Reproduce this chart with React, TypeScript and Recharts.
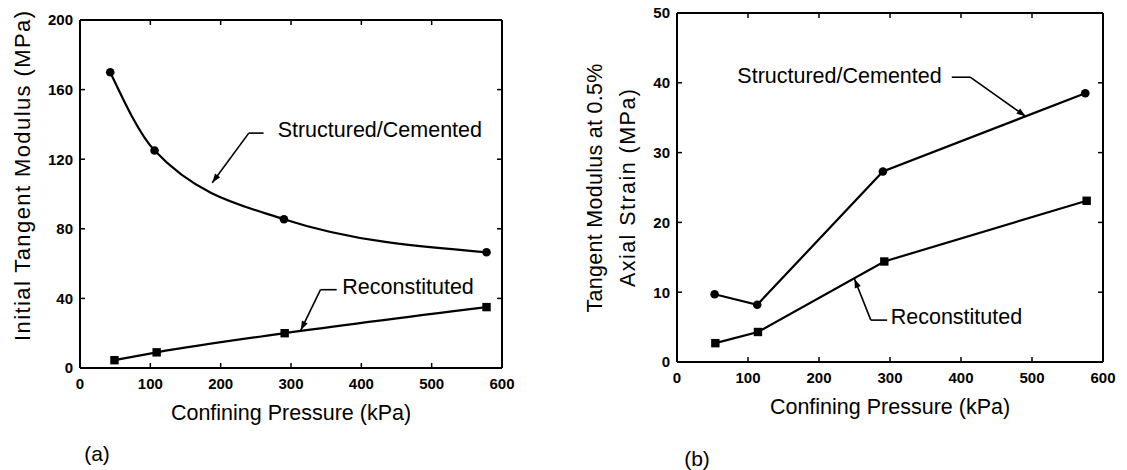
import React from 'react';
import { LineChart, Line, XAxis, YAxis, ReferenceLine, ReferenceDot } from 'recharts';

// ---- Data ----
const pressureTicks = [0, 100, 200, 300, 400, 500, 600];
const leftModulusTicks = [0, 40, 80, 120, 160, 200];
const rightModulusTicks = [0, 10, 20, 30, 40, 50];

// (a) Initial tangent modulus
const aStructPressure = [43, 106, 290, 578];
const aStructModulus = [170, 125, 85.5, 66.5];
const aReconPressure = [49, 109, 291, 578];
const aReconModulus = [4.5, 9, 20, 35];

// (b) Tangent modulus at 0.5% axial strain
const bStructPressure = [53, 113, 290, 575];
const bStructModulus = [9.7, 8.2, 27.3, 38.5];
const bReconPressure = [54, 114, 292, 577];
const bReconModulus = [2.7, 4.3, 14.4, 23.1];

const seriesLabels = ['Structured/Cemented', 'Reconstituted'];

const zip = (xs: number[], ys: number[]) => xs.map((x, i) => ({ x, y: ys[i] }));

// annotation anchors in data units
const aStructNote = { text: seriesLabels[0], tx: 281, ty: 137, d1: 261, d2: 240, dy: 135, px: 188, py: 106.5 };
const aReconNote = { text: seriesLabels[1], tx: 373, ty: 46.7, d1: 365, d2: 342, dy: 45, px: 314, py: 21.8 };
const bStructNote = { text: seriesLabels[0], tx: 85, ty: 41, d1: 387, d2: 413, dy: 40.8, px: 491, py: 35.2 };
const bReconNote = { text: seriesLabels[1], tx: 301, ty: 6.4, d1: 296, d2: 273, dy: 6.0, px: 250, py: 11.9 };

const FONT = '"Liberation Sans", Arial, Helvetica, sans-serif';
const TEXT_SIZE = 21.5;
const TICK_LEN = 5;

const arrowShape = (withHead: boolean) => (p: any) => {
  const { x1, y1, x2, y2 } = p;
  const dx = x2 - x1;
  const dy = y2 - y1;
  const len = Math.hypot(dx, dy) || 1;
  const ux = dx / len;
  const uy = dy / len;
  const L = 9;
  const W = 3.2;
  const bx = x2 - ux * L;
  const by = y2 - uy * L;
  return (
    <g>
      <line x1={x1} y1={y1} x2={x2} y2={y2} stroke="#000" strokeWidth={1.6} />
      {withHead && (
        <polygon
          points={`${x2},${y2} ${bx - uy * W},${by + ux * W} ${bx + uy * W},${by - ux * W}`}
          fill="#000"
        />
      )}
    </g>
  );
};

const textShape = (label: string) => (p: any) => (
  <text
    x={p.cx}
    y={p.cy}
    dominantBaseline="central"
    textAnchor="start"
    fontSize={TEXT_SIZE}
    fontFamily={FONT}
    fill="#000"
  >
    {label}
  </text>
);

const tickShape = (ddx: number, ddy: number) => (p: any) => (
  <line
    x1={p.cx}
    y1={p.cy}
    x2={p.cx + ddx * TICK_LEN}
    y2={p.cy + ddy * TICK_LEN}
    stroke="#000"
    strokeWidth={1.5}
  />
);

const squareDot = (p: any) => (
  <rect key={`sq-${p.index}`} x={p.cx - 4.2} y={p.cy - 4.2} width={8.4} height={8.4} fill="#000" />
);

const renderNote = (n: any, key: string) => [
  <ReferenceLine
    key={key + '-h'}
    segment={[{ x: n.d1, y: n.dy }, { x: n.d2, y: n.dy }]}
    shape={arrowShape(false)}
    ifOverflow="visible"
  />,
  <ReferenceLine
    key={key + '-d'}
    segment={[{ x: n.d2, y: n.dy }, { x: n.px, y: n.py }]}
    shape={arrowShape(true)}
    ifOverflow="visible"
  />,
  <ReferenceDot key={key + '-t'} x={n.tx} y={n.ty} r={0} shape={textShape(n.text)} ifOverflow="visible" />,
];

const renderFrame = (yTicks: number[], yMax: number, key: string) => {
  const innerX = pressureTicks.slice(1, -1);
  const innerY = yTicks.slice(1, -1);
  return [
    <ReferenceLine key={key + '-top'} y={yMax} stroke="#000" strokeWidth={2} ifOverflow="visible" />,
    <ReferenceLine key={key + '-right'} x={600} stroke="#000" strokeWidth={2} ifOverflow="visible" />,
    ...innerX.map((t) => (
      <ReferenceDot key={key + '-bt' + t} x={t} y={0} r={0} shape={tickShape(0, -1)} ifOverflow="visible" />
    )),
    ...innerX.map((t) => (
      <ReferenceDot key={key + '-tt' + t} x={t} y={yMax} r={0} shape={tickShape(0, 1)} ifOverflow="visible" />
    )),
    ...innerY.map((t) => (
      <ReferenceDot key={key + '-lt' + t} x={0} y={t} r={0} shape={tickShape(1, 0)} ifOverflow="visible" />
    )),
    ...innerY.map((t) => (
      <ReferenceDot key={key + '-rt' + t} x={600} y={t} r={0} shape={tickShape(-1, 0)} ifOverflow="visible" />
    )),
  ];
};

const tickStyle = { fontSize: 15, fontWeight: 700, fill: '#000', fontFamily: FONT };
const axisLine = { stroke: '#000', strokeWidth: 2 };

const commonAxes = (yTicks: number[], yMax: number, yWidth: number) => [
  <XAxis
    key="xb"
    dataKey="x"
    type="number"
    domain={[0, 600]}
    ticks={pressureTicks}
    interval={0}
    allowDataOverflow
    axisLine={axisLine}
    tickLine={false}
    tickSize={0}
    tickMargin={10}
    tick={tickStyle}
    height={30}
  />,
  <YAxis
    key="yl"
    dataKey="y"
    type="number"
    domain={[0, yMax]}
    ticks={yTicks}
    interval={0}
    allowDataOverflow
    axisLine={axisLine}
    tickLine={false}
    tickSize={0}
    tickMargin={7}
    tick={tickStyle}
    width={yWidth}
  />,
];

export default function App() {
  return (
    <div style={{ position: 'relative', width: 1127, height: 470, background: '#fff', fontFamily: FONT }}>
      <style>{'body{margin:0;background:#fff}'}</style>

      {/* (a) */}
      <div style={{ position: 'absolute', left: 0, top: 0 }}>
        <LineChart width={540} height={470} margin={{ top: 20, right: 38, bottom: 72, left: 0 }}>
          {commonAxes(leftModulusTicks, 200, 80)}
          {renderFrame(leftModulusTicks, 200, 'a')}
          <Line
            data={zip(aStructPressure, aStructModulus)}
            dataKey="y"
            type="monotone"
            stroke="#000"
            strokeWidth={2.2}
            dot={{ r: 4.3, fill: '#000', stroke: '#000', strokeWidth: 0 }}
            isAnimationActive={false}
          />
          <Line
            data={zip(aReconPressure, aReconModulus)}
            dataKey="y"
            type="monotone"
            stroke="#000"
            strokeWidth={2.2}
            dot={squareDot}
            isAnimationActive={false}
          />
          {renderNote(aStructNote, 'as')}
          {renderNote(aReconNote, 'ar')}
        </LineChart>
      </div>

      {/* (b) */}
      <div style={{ position: 'absolute', left: 560, top: 0 }}>
        <LineChart width={567} height={470} margin={{ top: 13, right: 24, bottom: 78, left: 0 }}>
          {commonAxes(rightModulusTicks, 50, 117)}
          {renderFrame(rightModulusTicks, 50, 'b')}
          <Line
            data={zip(bStructPressure, bStructModulus)}
            dataKey="y"
            type="linear"
            stroke="#000"
            strokeWidth={2.2}
            dot={{ r: 4.3, fill: '#000', stroke: '#000', strokeWidth: 0 }}
            isAnimationActive={false}
          />
          <Line
            data={zip(bReconPressure, bReconModulus)}
            dataKey="y"
            type="linear"
            stroke="#000"
            strokeWidth={2.2}
            dot={squareDot}
            isAnimationActive={false}
          />
          {renderNote(bStructNote, 'bs')}
          {renderNote(bReconNote, 'br')}
        </LineChart>
      </div>

      {/* titles */}
      <svg
        width={1127}
        height={470}
        style={{ position: 'absolute', left: 0, top: 0, pointerEvents: 'none' }}
        fontFamily={FONT}
        fill="#000"
      >
        <text x={291} y={413} textAnchor="middle" dominantBaseline="central" fontSize={TEXT_SIZE}>
          Confining Pressure (kPa)
        </text>
        <text x={890} y={407} textAnchor="middle" dominantBaseline="central" fontSize={TEXT_SIZE}>
          Confining Pressure (kPa)
        </text>
        <text
          x={22}
          y={176}
          textAnchor="middle"
          dominantBaseline="central"
          fontSize={22}
          textLength={330}
          lengthAdjust="spacing"
          transform="rotate(-90 22 176)"
        >
          Initial Tangent Modulus (MPa)
        </text>
        <text
          x={595}
          y={188}
          textAnchor="middle"
          dominantBaseline="central"
          fontSize={TEXT_SIZE}
          textLength={249}
          lengthAdjust="spacing"
          transform="rotate(-90 595 188)"
        >
          Tangent Modulus at 0.5%
        </text>
        <text
          x={628}
          y={188}
          textAnchor="middle"
          dominantBaseline="central"
          fontSize={TEXT_SIZE}
          textLength={198}
          lengthAdjust="spacing"
          transform="rotate(-90 628 188)"
        >
          Axial Strain (MPa)
        </text>
        <text x={97} y={453} textAnchor="middle" dominantBaseline="central" fontSize={21}>
          (a)
        </text>
        <text x={697} y={458} textAnchor="middle" dominantBaseline="central" fontSize={21}>
          (b)
        </text>
      </svg>
    </div>
  );
}
